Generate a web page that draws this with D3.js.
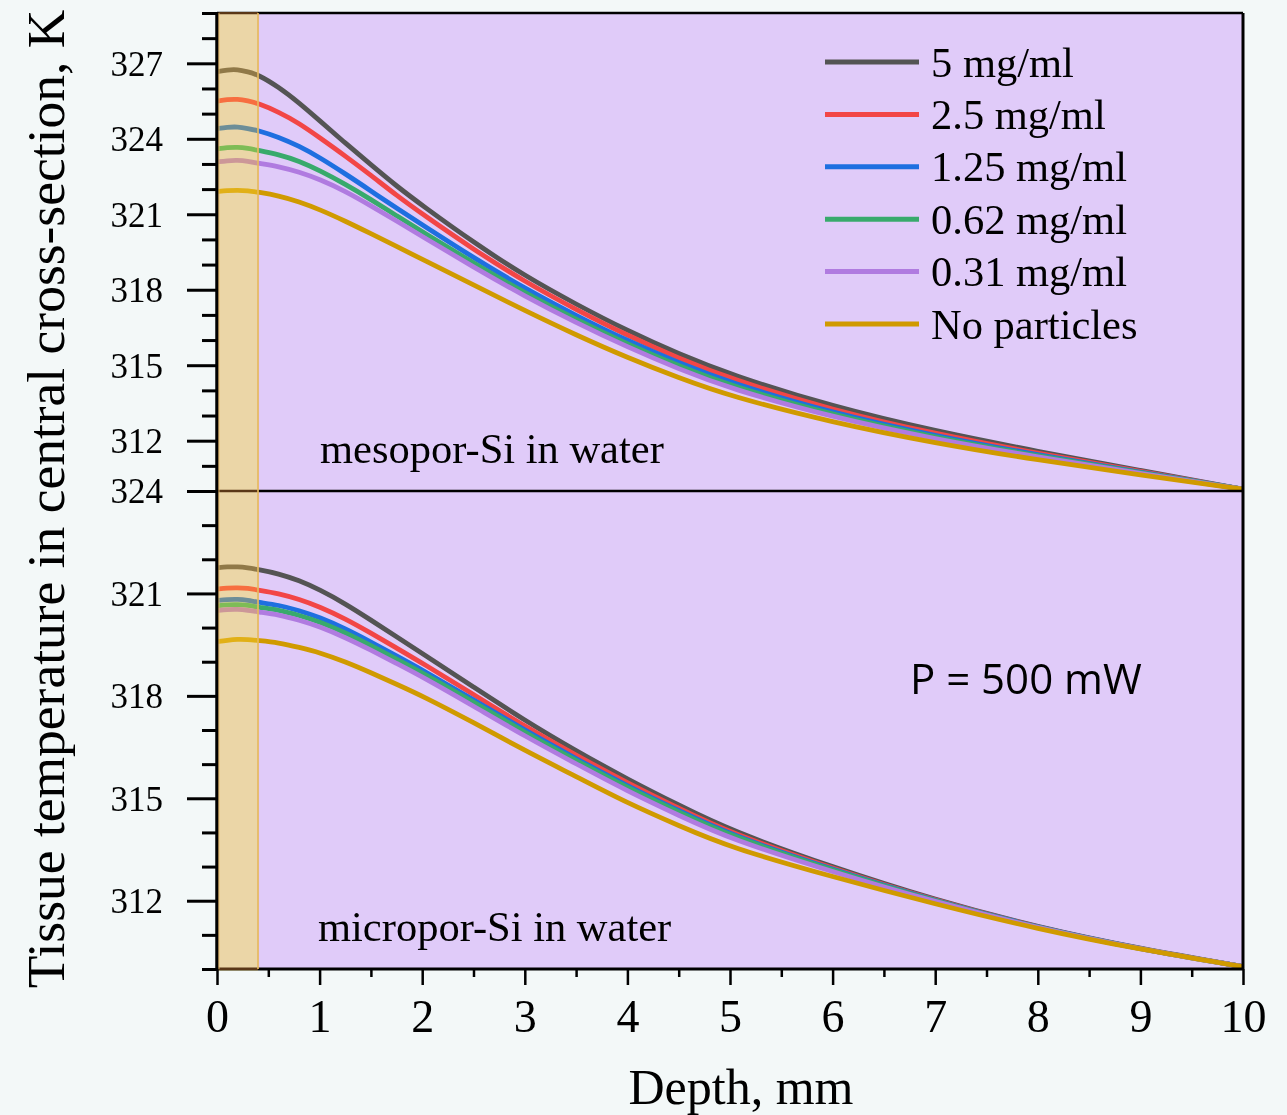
<!DOCTYPE html>
<html><head><meta charset="utf-8">
<script src="https://cdn.jsdelivr.net/npm/d3@7"></script>
<style>html,body{margin:0;padding:0;background:#F3F8F8;}svg{display:block;}</style>
</head><body>
<svg id="chart" width="1287" height="1115"></svg>
<script>
// ---------------- data ----------------
const depth = [0,0.1,0.2,0.3,0.4,0.6,0.8,1.0,1.25,1.5,1.75,2.0,2.5,3.0,3.5,4.0,4.5,5.0,6,7,8,9,10];
const seriesNames = ["5 mg/ml","2.5 mg/ml","1.25 mg/ml","0.62 mg/ml","0.31 mg/ml","No particles"];
const seriesColors = ["#545454","#F24646","#1E6FE0","#38AA6C","#B07BE0","#D09A00"];

// mesoporous Si (top panel)
const meso5    = [326.67,326.74,326.76,326.66,326.55,326.06,325.43,324.72,323.83,322.97,322.12,321.35,319.88,318.55,317.42,316.37,315.45,314.63,313.35,312.38,311.57,310.82,310.07];
const meso2_5  = [325.50,325.56,325.58,325.51,325.41,325.07,324.62,324.05,323.32,322.55,321.75,321.01,319.60,318.32,317.21,316.18,315.27,314.46,313.21,312.27,311.49,310.78,310.07];
const meso1_25 = [324.40,324.46,324.48,324.41,324.33,324.07,323.71,323.26,322.61,321.93,321.24,320.58,319.27,318.05,316.97,315.97,315.09,314.30,313.10,312.19,311.43,310.75,310.07];
const meso0_62 = [323.60,323.65,323.67,323.62,323.54,323.38,323.12,322.74,322.20,321.59,320.94,320.31,319.06,317.87,316.82,315.84,314.98,314.19,313.02,312.13,311.39,310.73,310.07];
const meso0_31 = [323.08,323.13,323.15,323.11,323.03,322.90,322.68,322.39,321.92,321.34,320.73,320.12,318.90,317.74,316.69,315.72,314.85,314.07,312.93,312.06,311.35,310.70,310.07];
const mesoNone = [321.90,321.94,321.96,321.94,321.88,321.74,321.50,321.19,320.73,320.23,319.72,319.21,318.19,317.17,316.20,315.30,314.50,313.77,312.72,311.90,311.23,310.64,310.07];

// microporous Si (bottom panel)
const micro5    = [321.75,321.78,321.78,321.75,321.70,321.58,321.38,321.11,320.70,320.22,319.73,319.24,318.26,317.28,316.39,315.56,314.80,314.06,312.98,312.02,311.22,310.59,310.07];
const micro2_5  = [321.13,321.16,321.17,321.15,321.10,321.00,320.83,320.61,320.26,319.84,319.40,318.96,318.04,317.11,316.26,315.45,314.71,313.99,312.94,312.00,311.21,310.58,310.07];
const micro1_25 = [320.79,320.82,320.83,320.80,320.74,320.66,320.50,320.30,319.97,319.58,319.17,318.76,317.89,316.99,316.16,315.36,314.64,313.93,312.91,311.99,311.21,310.58,310.07];
const micro0_62 = [320.64,320.67,320.68,320.65,320.60,320.52,320.36,320.17,319.85,319.47,319.08,318.68,317.82,316.93,316.11,315.31,314.60,313.90,312.89,311.98,311.20,310.58,310.07];
const micro0_31 = [320.50,320.53,320.54,320.51,320.46,320.38,320.22,320.03,319.71,319.34,318.95,318.56,317.70,316.82,316.01,315.21,314.50,313.81,312.84,311.96,311.20,310.58,310.07];
const microNone = [319.59,319.63,319.66,319.65,319.62,319.56,319.42,319.27,319.00,318.68,318.34,318.00,317.22,316.40,315.64,314.86,314.20,313.56,312.70,311.90,311.17,310.57,310.07];

const topDomain = [310, 329];
const botDomain = [310, 324];
const topMajor = [312,315,318,321,324,327];
const botMajor = [312,315,318,321,324];
const xTickVals = [0,1,2,3,4,5,6,7,8,9,10];
const bandRange = [0, 0.4];

const xLabel = "Depth, mm";
const yLabel = "Tissue temperature in central cross-section, K";
const topNote = "mesopor-Si in water";
const botNote = "micropor-Si in water";
const powerNote = "P = 500 mW";

// ---------------- drawing ----------------
const svg = d3.select("#chart");
const L = 217, R = 1243, T = 13, M = 491, B = 969;
const serif = "'Liberation Serif','Times New Roman',serif";

const x = d3.scaleLinear().domain([0,10]).range([L,R]);
const yTop = d3.scaleLinear().domain(topDomain).range([M,T]);
const yBot = d3.scaleLinear().domain(botDomain).range([B,M]);

svg.append("rect").attr("width",1287).attr("height",1115).attr("fill","#F3F8F8");
svg.append("rect").attr("x",L).attr("y",T).attr("width",R-L).attr("height",B-T).attr("fill","#E0CBF9");

function drawLines(data, y){
  const line = d3.line().x((d,i)=>x(depth[i])).y(d=>y(d)).curve(d3.curveBasis);
  const g = svg.append("g");
  data.forEach((arr,k)=>{
    g.append("path").attr("d",line(arr)).attr("fill","none")
      .attr("stroke",seriesColors[k]).attr("stroke-width",4.8).attr("stroke-linejoin","round");
  });
}
drawLines([meso5,meso2_5,meso1_25,meso0_62,meso0_31,mesoNone], yTop);
drawLines([micro5,micro2_5,micro1_25,micro0_62,micro0_31,microNone], yBot);

// annotations
svg.append("text").attr("x",320).attr("y",463).attr("font-family",serif).attr("font-size",42.5).attr("fill","#000").text(topNote);
svg.append("text").attr("x",318).attr("y",941).attr("font-family",serif).attr("font-size",42.5).attr("fill","#000").text(botNote);
svg.append("text").attr("x",910).attr("y",694).attr("font-family","'Open Sans',sans-serif").attr("font-size",42).attr("fill","#000").text(powerNote);

// legend
const lg = svg.append("g");
seriesNames.forEach((n,k)=>{
  const yy = 62 + k*52.4;
  lg.append("line").attr("x1",825).attr("x2",919).attr("y1",yy).attr("y2",yy)
    .attr("stroke",seriesColors[k]).attr("stroke-width",5);
  lg.append("text").attr("x",931).attr("y",yy+14.5).attr("font-family",serif).attr("font-size",42.5).attr("fill","#000").text(n);
});

// frame
const fr = svg.append("g").attr("stroke","#000").attr("fill","none");
fr.append("line").attr("x1",L).attr("x2",R).attr("y1",T).attr("y2",T).attr("stroke-width",2.5);
fr.append("line").attr("x1",R).attr("x2",R).attr("y1",T).attr("y2",B).attr("stroke-width",3);
fr.append("line").attr("x1",L).attr("x2",R).attr("y1",M).attr("y2",M).attr("stroke-width",2.5);
fr.append("line").attr("x1",L).attr("x2",R).attr("y1",B).attr("y2",B).attr("stroke-width",3);

// axes
function styleAxis(g, fs){
  g.select(".domain").remove();
  g.selectAll(".tick line").attr("stroke","#000").attr("stroke-width",3);
  g.selectAll(".tick text").attr("font-family",serif).attr("font-size",fs).attr("fill","#000");
}
function yAxes(y, major, dom){
  const minor = d3.range(dom[0], dom[1]+1).filter(v=>!major.includes(v));
  const gMin = svg.append("g").attr("transform",`translate(${L},0)`)
    .call(d3.axisLeft(y).tickValues(minor).tickSize(15).tickFormat(""));
  styleAxis(gMin, 35);
  const gMaj = svg.append("g").attr("transform",`translate(${L},0)`)
    .call(d3.axisLeft(y).tickValues(major).tickSize(30).tickPadding(24).tickFormat(d3.format("d")));
  styleAxis(gMaj, 35);
  gMaj.selectAll(".tick text").attr("dy","0.34em");
}
yAxes(yTop, topMajor, topDomain);
yAxes(yBot, botMajor, botDomain);

const gxMin = svg.append("g").attr("transform",`translate(0,${B})`)
  .call(d3.axisBottom(x).tickValues(d3.range(0.5,10,1)).tickSize(8).tickFormat(""));
styleAxis(gxMin, 46);
gxMin.selectAll(".tick line").attr("stroke-width",2.5);
const gx = svg.append("g").attr("transform",`translate(0,${B})`)
  .call(d3.axisBottom(x).tickValues(xTickVals).tickSize(16).tickPadding(14).tickFormat(d3.format("d")));
styleAxis(gx, 46);
gx.selectAll(".tick line").attr("stroke-width",2.5);

// left axis line
svg.append("line").attr("x1",L).attr("x2",L).attr("y1",T).attr("y2",B+1.5).attr("stroke","#000").attr("stroke-width",3.5);

// translucent band (multiply + screen to emulate the filter look)
const bx0 = x(bandRange[0]) + 1.5, bx1 = x(bandRange[1]);
svg.append("rect").attr("x",bx0).attr("y",T-1).attr("width",bx1-bx0).attr("height",B-T+2.5)
  .attr("fill","rgb(255,255,162)").style("mix-blend-mode","multiply");
svg.append("rect").attr("x",bx0).attr("y",T-1).attr("width",bx1-bx0).attr("height",B-T+2.5)
  .attr("fill","rgb(90,55,23)").style("mix-blend-mode","screen");
svg.append("line").attr("x1",bx1).attr("x2",bx1).attr("y1",T).attr("y2",B)
  .attr("stroke","#E6B95E").attr("stroke-width",2).attr("opacity",0.85);
svg.append("line").attr("x1",bx0+0.5).attr("x2",bx0+0.5).attr("y1",T).attr("y2",B)
  .attr("stroke","#E6B95E").attr("stroke-width",1.2).attr("opacity",0.7);

// axis titles
svg.append("text").attr("x",741).attr("y",1104).attr("text-anchor","middle")
  .attr("font-family",serif).attr("font-size",50).attr("fill","#000").text(xLabel);
svg.append("text").attr("transform","translate(64,499) rotate(-90)").attr("text-anchor","middle")
  .attr("font-family",serif).attr("font-size",53.5).attr("fill","#000").text(yLabel);
</script>
</body></html>
